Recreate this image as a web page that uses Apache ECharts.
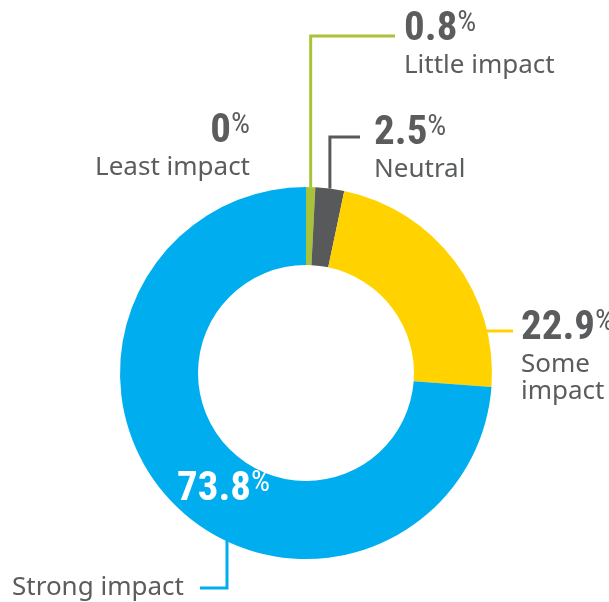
<!DOCTYPE html>
<html>
<head>
<meta charset="utf-8">
<script src="https://cdn.jsdelivr.net/npm/echarts@6/dist/echarts.min.js"></script>
<style>
  html, body { margin: 0; padding: 0; background: #ffffff; }
  #chart { width: 609px; height: 602px; }
</style>
</head>
<body>
<div id="chart"></div>
<script>
// Share of respondents by perceived impact (percent)
const categories = ['Least impact', 'Little impact', 'Neutral', 'Some impact', 'Strong impact'];
const shares = [0, 0.8, 2.5, 22.9, 73.8];
const nameLines = ['Least impact', 'Little impact', 'Neutral', 'Some\nimpact', 'Strong impact'];
const colors = ['#9d9d9d', '#a8c23a', '#58595b', '#ffd200', '#00aeef'];

const TEXT = '#5b5c5e';
const NUM_FONT = '"Roboto Condensed", "DejaVu Sans", sans-serif';
const NAME_FONT = '"Noto Sans", "Open Sans", sans-serif';

const CX = 306, CY = 373, R0 = 108, R1 = 186;
const total = shares.reduce((a, b) => a + b, 0);

// mid angle of a slice, clockwise from 12 o'clock
function midAngle(i) {
  let before = 0;
  for (let k = 0; k < i; k++) before += shares[k];
  return (before + shares[i] / 2) / total * 2 * Math.PI;
}
function edgePoint(i, r) {
  const a = midAngle(i);
  return [CX + r * Math.sin(a), CY - r * Math.cos(a)];
}

function richFor(color) {
  return {
    v: { fontFamily: NUM_FONT, fontSize: 41, fontWeight: 'bold', color: color, lineHeight: 44 },
    p: { fontFamily: NUM_FONT, fontSize: 30, color: color, lineHeight: 42, verticalAlign: 'top' },
    n: { fontFamily: NAME_FONT, fontSize: 26, color: TEXT, lineHeight: 27 }
  };
}

// label anchor and leader line for each slice of the ring
function mainLayout(params) {
  const i = params.dataIndex;
  if (i === 0) return { x: 250, y: 110, align: 'right', verticalAlign: 'top' };
  if (i === 1) {
    const s = edgePoint(1, R1);
    return { x: 404, y: 8, align: 'left', verticalAlign: 'top',
      labelLinePoints: [s, [s[0], 36], [395, 36]] };
  }
  if (i === 2) {
    const s = edgePoint(2, R1);
    return { x: 374, y: 112, align: 'left', verticalAlign: 'top',
      labelLinePoints: [s, [s[0], 137], [360, 137]] };
  }
  if (i === 3) {
    const ly = 331;
    const sx = CX + Math.sqrt(R1 * R1 - (CY - ly) * (CY - ly)) - 6;
    return { x: 521, y: 307, align: 'left', verticalAlign: 'top',
      labelLinePoints: [[sx, ly], [(sx + 513) / 2, ly], [513, ly]] };
  }
  return { x: 177, y: 468, align: 'left', verticalAlign: 'top' };
}

function nameLayout(params) {
  const lx = 227, ly = 588;
  const sy = CY + Math.sqrt(R1 * R1 - (lx - CX) * (lx - CX));
  return { x: 12, y: ly, align: 'left', verticalAlign: 'middle',
    labelLinePoints: [[lx, sy - 2], [lx, ly], [200, ly]] };
}

const mainData = categories.map((c, i) => {
  const item = {
    name: c,
    value: shares[i],
    itemStyle: { color: colors[i] },
    labelLine: { show: i !== 0 && i !== 4, lineStyle: { color: colors[i], width: 3 } }
  };
  if (i === 4) {
    item.label = { rich: richFor('#ffffff'), formatter: p => '{v|' + p.value + '}{p|%}' };
  } else {
    item.label = { rich: richFor(TEXT), formatter: p => '{v|' + p.value + '}{p|%}\n{n|' + nameLines[i] + '}' };
  }
  return item;
});

const nameData = categories.map((c, i) => ({
  name: c,
  value: shares[i],
  label: { show: i === 4, rich: richFor(TEXT), formatter: '{n|' + nameLines[i] + '}' },
  labelLine: { show: i === 4, lineStyle: { color: colors[i], width: 3 } }
}));

const chart = echarts.init(document.getElementById('chart'), null, { renderer: 'canvas' });
chart.setOption({
  animation: false,
  backgroundColor: '#ffffff',
  series: [
    {
      type: 'pie',
      center: [CX, CY],
      radius: [R0, R1],
      startAngle: 90,
      clockwise: true,
      avoidLabelOverlap: false,
      silent: true,
      label: { show: true, position: 'outside' },
      labelLine: { show: true },
      labelLayout: mainLayout,
      data: mainData
    },
    {
      type: 'pie',
      center: [CX, CY],
      radius: [R0, R1],
      startAngle: 90,
      clockwise: true,
      avoidLabelOverlap: false,
      silent: true,
      itemStyle: { color: 'rgba(0,0,0,0)' },
      label: { position: 'outside' },
      labelLayout: nameLayout,
      data: nameData
    }
  ]
});
</script>
</body>
</html>
